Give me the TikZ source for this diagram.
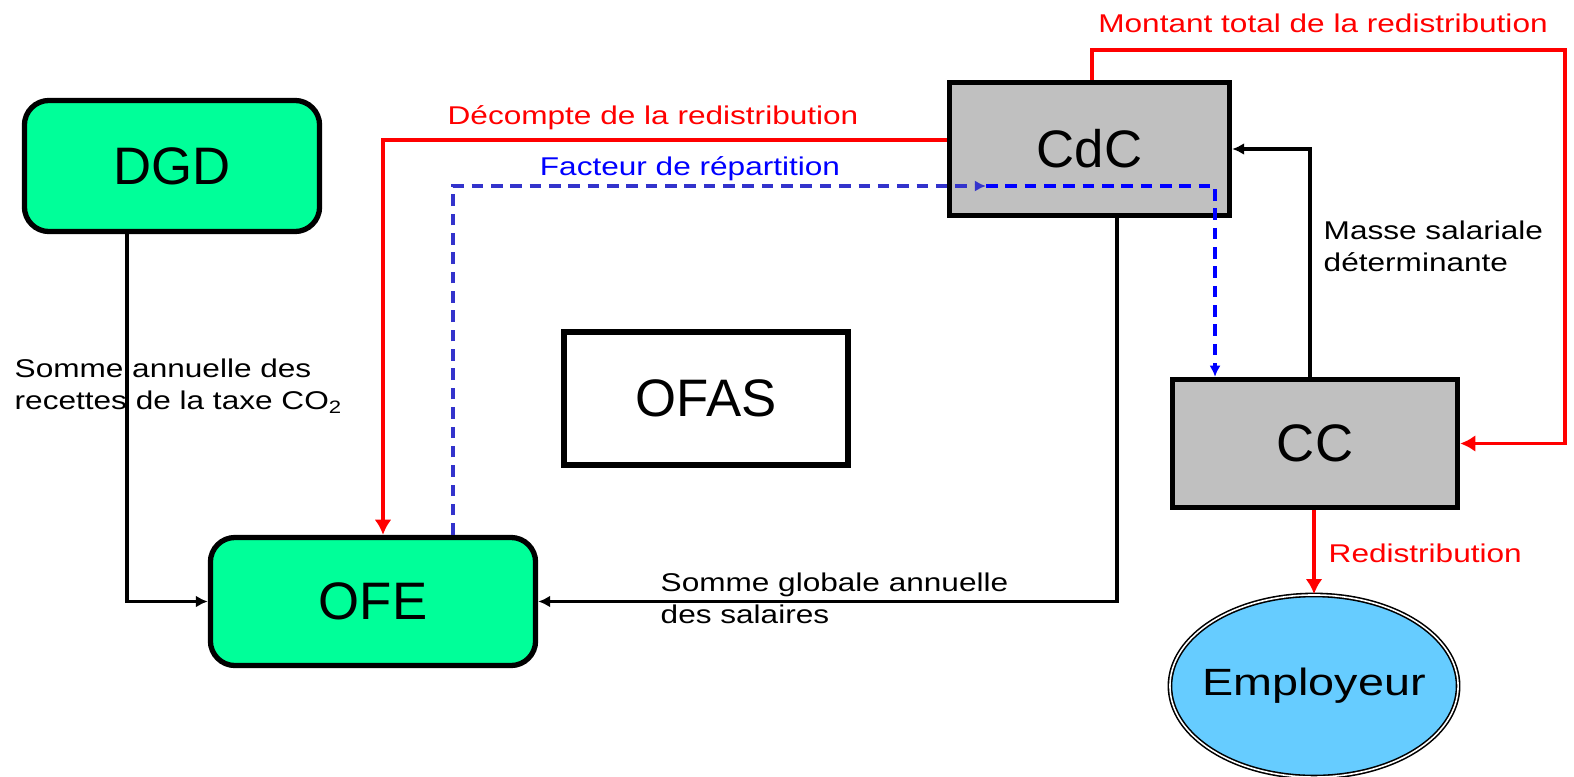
\documentclass[tikz,border=0pt]{standalone}
\usepackage{fontspec}
\setmainfont{Liberation Sans}
\newfontfamily\widefont[FakeStretch=1.23]{Liberation Sans}
\usetikzlibrary{arrows.meta,shapes.geometric,positioning}
\usepackage{xcolor}
\definecolor{boxgreen}{HTML}{00FF99}
\definecolor{boxgray}{HTML}{C0C0C0}
\definecolor{empblue}{HTML}{66CCFF}
\definecolor{dashblue}{HTML}{3333CC}
\newcommand{\bigfont}{\fontsize{15}{18}\selectfont}
\newcommand{\empfont}{\widefont\fontsize{10.8}{13}\selectfont}
\newcommand{\lblfont}{\widefont\fontsize{7.3}{9.1}\selectfont}
\tikzset{
    boxsty/.style={draw,line width=1.5pt,rectangle,font=\bigfont,inner sep=0pt},
    greensty/.style={boxsty,fill=boxgreen,rounded corners=7pt},
    graysty/.style={boxsty,fill=boxgray},
    whitesty/.style={boxsty,fill=white},
    empsty/.style={draw,ellipse,fill=empblue,line width=0.45pt,double=white,double distance=0.45pt,
                   minimum width=2.88cm,minimum height=1.82cm,inner xsep=-0.2cm,inner ysep=0pt,font=\empfont},
    blksty/.style={draw=black,line width=1.1pt,-{Latex[length=3.4pt,width=3.4pt]}},
    redsty/.style={draw=red,line width=1.1pt,-{Latex[length=4.3pt,width=4.8pt]}},
    bluesty/.style={draw=blue,line width=1pt,dash pattern=on 3.3pt off 2.2pt,-{Latex[length=3.2pt,width=3.2pt]}},
    lblsty/.style={font=\lblfont,align=left,inner sep=0pt},
}

\begin{document}
\begin{tikzpicture}[x=0.01cm,y=-0.01cm]
  \useasboundingbox (0,0) rectangle (1574,776);

  % boxes
  \node[greensty,minimum width=2.95cm,minimum height=1.31cm] (DGD)  at (172,166)    {DGD};
  \node[greensty,minimum width=3.25cm,minimum height=1.28cm] (OFE)  at (373,601.5)  {OFE};
  \node[whitesty,minimum width=2.84cm,minimum height=1.33cm] (OFAS) at (706,398.5)  {OFAS};
  \node[graysty,minimum width=2.80cm,minimum height=1.33cm]  (CdC)  at (1089.5,149) {CdC};
  \node[graysty,minimum width=2.85cm,minimum height=1.28cm]  (CC)   at (1315,443.5) {CC};
  \node[empsty] (Emp) at (1314,686) {Employeur};

  % corners of the paths
  \coordinate (fmid)    at (986,186);
  \coordinate (fcorner) at (1215,186);
  \coordinate (rtop)    at (1565,50);

  % connectors
  \draw[blksty] (127,0 |- DGD.south) |- (OFE.west);
  \draw[redsty] (CdC.west |- 0,140) -| (383,0 |- OFE.north);
  \draw[bluesty,draw=dashblue] (453,0 |- OFE.north) |- (fmid);
  \draw[bluesty] (fmid) -- (fcorner) -- (fcorner |- CC.north);
  \draw[blksty] (1117,0 |- CdC.south) |- (OFE.east);
  \draw[blksty] (1310,0 |- CC.north) |- (CdC.east);
  \draw[redsty] (1092,0 |- CdC.north) |- (rtop) |- (CC.east);
  \draw[redsty] (CC.south -| Emp.north) -- (Emp.north);

  % labels
  \node[lblsty,text=red]  (decompte) at (653,118)  {D\'ecompte de la redistribution};
  \node[lblsty,text=blue] (facteur)  at (690,169)  {Facteur de r\'epartition};
  \node[lblsty,text=red]  (montant)  at (1323,23)  {Montant total de la redistribution};
  \node[lblsty,text=red,anchor=west] (redis) at (1328,553) {Redistribution};
  \node[lblsty,anchor=west] (masse)   at (1323,246) {Masse salariale\\d\'eterminante};
  \node[lblsty,anchor=west] (globale) at (660,598)  {Somme globale annuelle\\des salaires};
  \node[lblsty,anchor=west] (recette) at (14,386)   {Somme annuelle des\\recettes de la taxe CO\textsubscript{2}};
\end{tikzpicture}
\end{document}
